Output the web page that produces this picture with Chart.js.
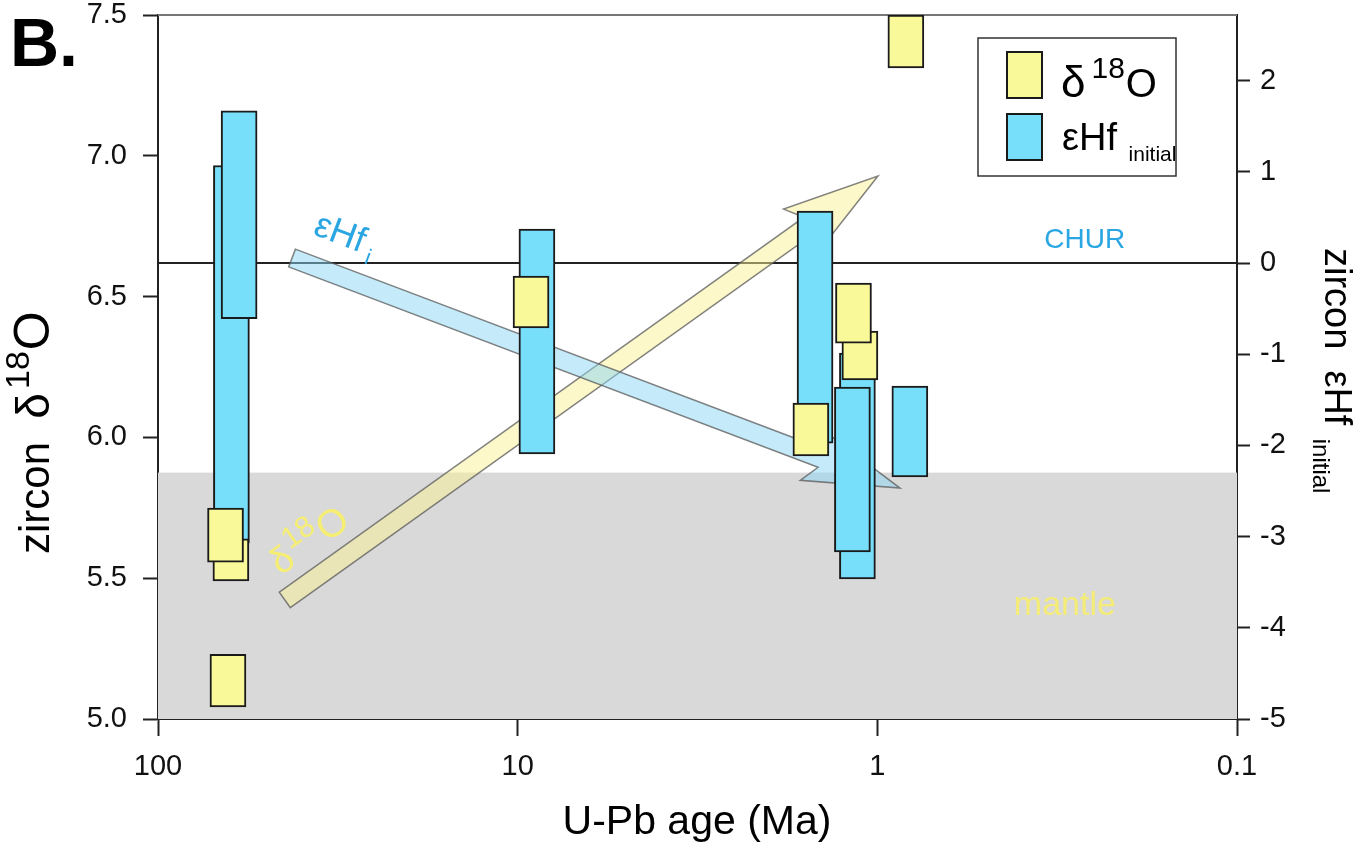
<!DOCTYPE html>
<html>
<head>
<meta charset="utf-8">
<script src="https://cdn.jsdelivr.net/npm/chart.js@4.4.1/dist/chart.umd.min.js"></script>
<style>
  html, body { margin: 0; padding: 0; background: #fff; }
  #wrap { width: 1372px; height: 845px; }
</style>
</head>
<body>
<div id="wrap"><canvas id="chart" width="1372" height="845"></canvas></div>
<script>
// zircon δ18O boxes (left axis), drawn in this order
const yellowAge  = [62.7, 64.9, 63.9, 9.18, 1.118, 1.165, 1.53, 0.833];
const yellowLow  = [5.49, 5.557, 5.043, 6.389, 6.204, 6.335, 5.934, 7.312];
const yellowHigh = [5.64, 5.749, 5.23, 6.573, 6.378, 6.548, 6.122, 7.5];

// zircon εHf initial boxes (right axis)
const blueAge  = [62.5, 59.5, 8.84, 1.49, 1.136, 1.173, 0.812];
const blueLow  = [-3.07, -0.61, -2.094, -1.974, -3.465, -3.169, -2.346];
const blueHigh = [1.07, 1.67, 0.373, 0.57, -0.987, -1.36, -1.349];

const ageTicks = [100, 10, 1, 0.1];
const o18Ticks = [5.0, 5.5, 6.0, 6.5, 7.0, 7.5];
const hfTicks  = [-5, -4, -3, -2, -1, 0, 1, 2];

const mantleTop = 5.875;   // δ18O
const churValue = 0;       // εHf
// trend arrows: [age, δ18O] tail -> tip
const hfArrowFrom  = [42.4, 6.637];
const hfArrowTo    = [0.865, 5.82];
const o18ArrowFrom = [44.4, 5.423];
const o18ArrowTo   = [0.996, 6.928];
// label anchors [age, δ18O]
const churLabelAt   = [0.265, 6.672];
const mantleLabelAt = [0.301, 5.37];

const FONT = '"Liberation Sans", Arial, Helvetica, sans-serif';
const YELLOW = '#faf99a';
const BLUE = '#77dffa';
const EDGE = '#1a1a1a';

// draw a run of text pieces [text, size, rise, extraGap] from x along the baseline
function richText(ctx, parts, x, y, weight) {
  let cx = x;
  for (const [t, size, rise, gap] of parts) {
    ctx.font = (weight || '') + ' ' + size + 'px ' + FONT;
    ctx.fillText(t, cx, y - rise);
    cx += ctx.measureText(t).width + (gap || 0);
  }
  return cx - x;
}

function drawArrow(ctx, p0, p1, fill) {
  const dx = p1[0] - p0[0], dy = p1[1] - p0[1];
  const len = Math.hypot(dx, dy);
  const ux = dx / len, uy = dy / len, nx = -uy, ny = ux;
  const w = 9.5, join = 84, back = 96, barb = 28;
  const at = (along, off) => [p1[0] - ux * along + nx * off, p1[1] - uy * along + ny * off];
  const pts = [
    [p0[0] + nx * w, p0[1] + ny * w], at(join, w), at(back, barb), p1,
    at(back, -barb), at(join, -w), [p0[0] - nx * w, p0[1] - ny * w]
  ];
  ctx.beginPath();
  pts.forEach((p, i) => i ? ctx.lineTo(p[0], p[1]) : ctx.moveTo(p[0], p[1]));
  ctx.closePath();
  ctx.fillStyle = fill;
  ctx.fill();
  ctx.strokeStyle = 'rgba(90,90,90,0.75)';
  ctx.lineWidth = 1.5;
  ctx.stroke();
  return Math.atan2(dy, dx);
}

const decor = {
  id: 'decor',
  beforeDatasetsDraw(chart) {
    const { ctx, chartArea: a, scales: { x, y, y2 } } = chart;
    ctx.save();
    const ym = y.getPixelForValue(mantleTop);
    ctx.fillStyle = '#d9d9d9';
    ctx.fillRect(a.left, ym, a.right - a.left, a.bottom - ym);

    const yc = y2.getPixelForValue(churValue);
    ctx.strokeStyle = '#222';
    ctx.lineWidth = 2;
    ctx.beginPath();
    ctx.moveTo(a.left, yc);
    ctx.lineTo(a.right, yc);
    ctx.stroke();

    ctx.strokeStyle = '#777';
    ctx.lineWidth = 2;
    ctx.beginPath();
    ctx.moveTo(a.left, a.top);
    ctx.lineTo(a.right, a.top);
    ctx.stroke();

    const px = p => [x.getPixelForValue(p[0]), y.getPixelForValue(p[1])];
    const oFrom = px(o18ArrowFrom), oTo = px(o18ArrowTo);
    const hFrom = px(hfArrowFrom), hTo = px(hfArrowTo);
    const angO = drawArrow(ctx, oFrom, oTo, 'rgba(250,242,150,0.5)');
    const angH = drawArrow(ctx, hFrom, hTo, 'rgba(140,215,245,0.5)');

    // arrow labels
    ctx.textBaseline = 'alphabetic';
    ctx.textAlign = 'left';
    ctx.save();
    ctx.translate(hFrom[0] + 20, hFrom[1] - 24);
    ctx.rotate(angH);
    ctx.fillStyle = '#2aa6e2';
    richText(ctx, [['εHf', 36, 0], [' i', 22, -9]], 0, 0);
    ctx.restore();

    ctx.save();
    ctx.translate(oFrom[0] - 4, oFrom[1] - 24);
    ctx.rotate(angO);
    ctx.fillStyle = '#f6ee72';
    richText(ctx, [['δ', 37, 0, 2], ['18', 30, 16, 1], ['O', 39, 0]], 0, 0);
    ctx.restore();

    ctx.fillStyle = '#2aa6e2';
    ctx.textAlign = 'center';
    ctx.font = '28px ' + FONT;
    ctx.fillText('CHUR', x.getPixelForValue(churLabelAt[0]), y.getPixelForValue(churLabelAt[1]));
    ctx.fillStyle = '#f4ec76';
    ctx.font = '34px ' + FONT;
    ctx.fillText('mantle', x.getPixelForValue(mantleLabelAt[0]), y.getPixelForValue(mantleLabelAt[1]));
    ctx.restore();
  },
  afterDraw(chart) {
    const { ctx } = chart;
    ctx.save();
    ctx.fillStyle = '#000';
    ctx.textBaseline = 'alphabetic';
    ctx.textAlign = 'left';

    // panel letter
    ctx.font = 'bold 68px ' + FONT;
    ctx.fillText('B.', 10, 66);

    // x title
    ctx.textAlign = 'center';
    ctx.font = '41px ' + FONT;
    ctx.fillText('U-Pb age (Ma)', 697, 834);
    ctx.textAlign = 'left';

    // left title, read bottom to top
    ctx.save();
    ctx.translate(49, 554);
    ctx.rotate(-Math.PI / 2);
    richText(ctx, [['zircon  ', 42, 0], ['δ', 46, 0, 4], ['18', 34, 20, 1], ['O', 50, 0]], 0, 0);
    ctx.restore();

    // right title, read top to bottom
    ctx.save();
    ctx.translate(1325, 248);
    ctx.rotate(Math.PI / 2);
    richText(ctx, [['zircon  εHf', 38, 0], ['  initial', 24, -12]], 0, 0);
    ctx.restore();

    // legend
    ctx.fillStyle = '#fff';
    ctx.fillRect(978, 38, 198, 138);
    ctx.strokeStyle = '#333';
    ctx.lineWidth = 1.5;
    ctx.strokeRect(978, 38, 198, 138);
    ctx.lineWidth = 2;
    ctx.strokeStyle = EDGE;
    ctx.fillStyle = YELLOW;
    ctx.fillRect(1007, 52, 35, 46);
    ctx.strokeRect(1007, 52, 35, 46);
    ctx.fillStyle = BLUE;
    ctx.fillRect(1007, 114, 35, 46);
    ctx.strokeRect(1007, 114, 35, 46);
    ctx.fillStyle = '#000';
    richText(ctx, [['δ', 44, 0, 6], ['18', 30, 19, 1], ['O', 40, 0]], 1061, 97);
    richText(ctx, [['εHf', 38, 0], ['  initial', 21, -11]], 1062, 150);
    ctx.restore();
  }
};

const tickFont = { family: FONT, size: 29, lineHeight: 30 / 29 };
// keep the plot top at 15px despite the tick padding
const fixVertical = width => s => { s.width = width; s.paddingTop = 15; s.paddingBottom = 15; };

new Chart(document.getElementById('chart'), {
  type: 'bar',
  data: {
    datasets: [
      {
        label: 'δ18O',
        yAxisID: 'y',
        data: yellowAge.map((a, i) => ({ x: a, y: [yellowLow[i], yellowHigh[i]] })),
        backgroundColor: YELLOW
      },
      {
        label: 'εHf initial',
        yAxisID: 'y2',
        data: blueAge.map((a, i) => ({ x: a, y: [blueLow[i], blueHigh[i]] })),
        backgroundColor: BLUE
      }
    ]
  },
  options: {
    responsive: false,
    animation: false,
    layout: { padding: 0 },
    datasets: {
      bar: { grouped: false, barThickness: 36, borderWidth: 2, borderColor: EDGE, borderSkipped: false }
    },
    plugins: { legend: { display: false }, tooltip: { enabled: false } },
    scales: {
      x: {
        type: 'logarithmic',
        reverse: true,
        min: 0.1,
        max: 100,
        offset: false,
        grid: { offset: false, drawOnChartArea: false, tickLength: 17, color: '#222', tickWidth: 2 },
        border: { color: '#222', width: 2 },
        ticks: { color: '#111', font: tickFont, padding: 16, maxRotation: 0, callback: v => String(v) },
        afterBuildTicks: s => { s.ticks = ageTicks.map(v => ({ value: v })); },
        afterFit: s => { s.height = 126; }
      },
      y: {
        position: 'left',
        min: 5,
        max: 7.5,
        grid: { drawOnChartArea: false, tickLength: 15, color: '#222', tickWidth: 2 },
        border: { color: '#222', width: 2 },
        ticks: { color: '#111', font: tickFont, padding: 16, callback: v => v.toFixed(1) },
        afterBuildTicks: s => { s.ticks = o18Ticks.map(v => ({ value: v })); },
        afterFit: fixVertical(158)
      },
      y2: {
        position: 'right',
        min: -5,
        max: 2.72,
        grid: { drawOnChartArea: false, tickLength: 13, color: '#222', tickWidth: 2 },
        border: { color: '#222', width: 2 },
        ticks: { color: '#111', font: tickFont, padding: 10, callback: v => String(v) },
        afterBuildTicks: s => { s.ticks = hfTicks.map(v => ({ value: v })); },
        afterFit: fixVertical(135)
      }
    }
  },
  plugins: [decor]
});
</script>
</body>
</html>
